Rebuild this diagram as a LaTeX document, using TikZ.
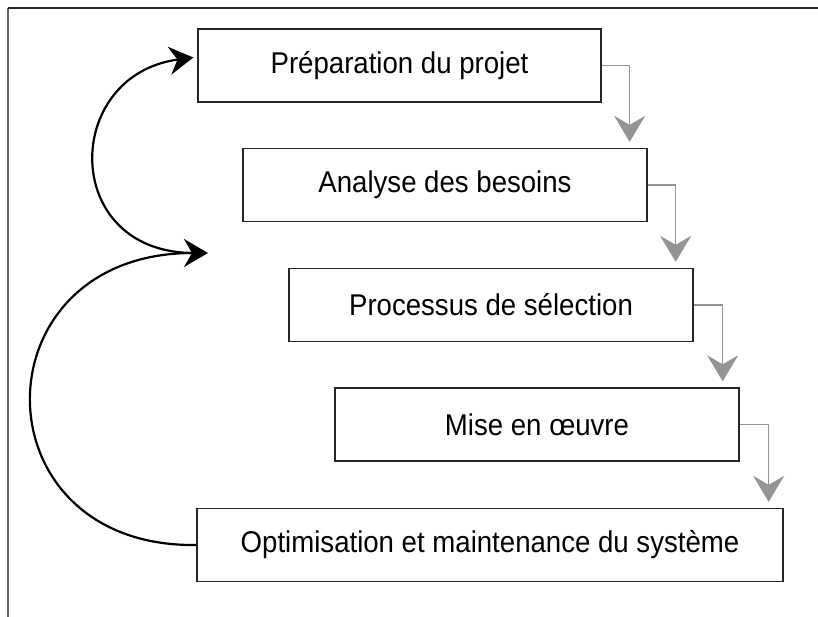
\documentclass[tikz,border=0pt]{standalone}
\usepackage{fontspec}
\setmainfont{Liberation Sans}[FakeStretch=0.92]
\usetikzlibrary{arrows.meta}

\tikzset{
    stage/.style={draw=black!85, line width=1.3pt, minimum height=73pt, inner sep=0pt,
        font=\fontsize{30}{36}\selectfont},
    flow/.style={draw=black!42, line width=1.5pt,
        -{Stealth[length=26pt, width=31pt, inset=9pt]}},
    back/.style={draw=black, line width=2.2pt,
        -{Stealth[length=24pt, width=28pt, inset=8pt]}}
}

\begin{document}
\begin{tikzpicture}[x=1pt, y=-1pt]
    \useasboundingbox (0,0) rectangle (818,617);

    % Frame
    \draw[black!60, line width=1.2pt] (8,617) -- (8,8);
    \draw[black!85, line width=1.5pt] (8,8) -- (818,8);

    % Stages
    \node[stage, minimum width=403pt] (prep)    at (399.5,65.5) {Préparation du projet};
    \node[stage, minimum width=404pt] (analyse) at (445,185)    {Analyse des besoins};
    \node[stage, minimum width=404pt] (select)  at (491,305)    {Processus de sélection};
    \node[stage, minimum width=404pt] (mise)    at (537,424.5)  {Mise en œuvre};
    \node[stage, minimum width=586pt] (optim)   at (490,545)    {Optimisation et maintenance du système};

    % Steps down
    \draw[flow] (prep.east)    -| ([xshift=-18pt, yshift=6pt]analyse.north east);
    \draw[flow] (analyse.east) -| ([xshift=-18pt, yshift=6pt]select.north east);
    \draw[flow] (select.east)  -| ([xshift=-17pt, yshift=6pt]mise.north east);
    \draw[flow] (mise.east)    -| ([xshift=-15pt, yshift=6pt]optim.north east);

    % Loop back
    \coordinate (turn) at (208,253);
    \draw[back] (optim.west) .. controls (-25,548) and (-25,253) .. (turn);
    \draw[back] ([xshift=-14pt]turn) .. controls (60,253) and (62,75) .. ([xshift=-4pt, yshift=8pt]prep.west);
\end{tikzpicture}
\end{document}
